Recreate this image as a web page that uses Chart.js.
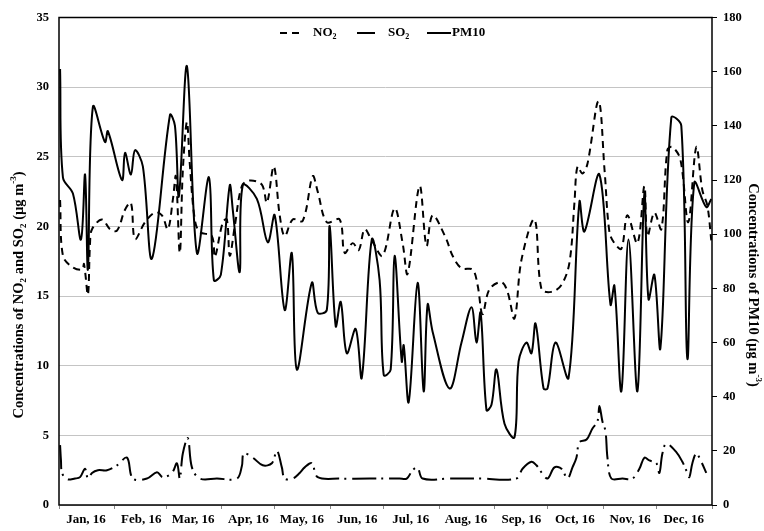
<!DOCTYPE html>
<html>
<head>
<meta charset="utf-8">
<script src="https://cdn.jsdelivr.net/npm/chart.js@4.4.1/dist/chart.umd.min.js"></script>
<style>
  html, body { margin: 0; padding: 0; background: #fff; }
  #chart { display: block; }
</style>
</head>
<body>
<canvas id="chart" width="764" height="531"></canvas>
<script>
// month boundaries (day of year, 2016) and their labels
const monthStarts = [0, 31, 60, 91, 121, 152, 182, 213, 244, 274, 305, 335, 366];
const monthLabels = ["Jan, 16", "Feb, 16", "Mar, 16", "Apr, 16", "May, 16", "Jun, 16",
  "Jul, 16", "Aug, 16", "Sep, 16", "Oct, 16", "Nov, 16", "Dec, 16", ""];

const leftTicks = [0, 5, 10, 15, 20, 25, 30, 35];
const rightTicks = [0, 20, 40, 60, 80, 100, 120, 140, 160, 180];

// NO2 (left axis)
const no2Days = [0.6, 2.2, 7.3, 12.9, 14.0, 16.2, 17.4, 18.5, 24.1, 28.6, 32.5, 37.0, 40.3, 42.6, 48.2,
  53.8, 57.7, 61.0, 63.8, 65.5, 67.7, 69.4, 71.7, 73.3, 76.1, 78.9, 85.7, 87.3, 91.8, 94.1,
  95.7, 98.5, 102.5, 106.9, 113.7, 116.5, 120.4, 123.7, 126.5, 131.0, 136.6, 142.2, 145.0, 150.1, 157.3,
  160.1, 164.6, 168.0, 171.3, 175.3, 181.4, 188.1, 192.6, 195.4, 202.1, 206.0, 209.4, 216.7, 220.6, 225.6,
  231.8, 234.6, 237.4, 241.3, 248.0, 251.4, 255.3, 259.2, 266.5, 270.4, 276.0, 281.6, 286.1, 288.9, 290.6,
  293.4, 296.2, 302.4, 305.8, 308.5, 311.3, 315.2, 318.6, 324.2, 328.1, 329.8, 333.7, 337.6, 341.0, 343.8,
  348.3, 352.7, 357.2, 360.6, 363.4, 365.6];
const no2Values = [21.9, 17.9, 17.1, 16.9, 17.3, 15.1, 18.8, 19.8, 20.5, 19.8, 19.7, 21.2, 21.7, 19.1, 20.3,
  21.0, 20.8, 19.8, 21.9, 23.6, 18.1, 24.0, 27.5, 24.5, 20.5, 19.6, 19.3, 17.8, 20.3, 20.5,
  17.9, 20.0, 22.9, 23.3, 23.0, 21.7, 24.3, 20.8, 19.3, 20.5, 20.4, 23.6, 22.5, 20.3, 20.5,
  18.1, 18.8, 18.3, 19.8, 19.0, 17.9, 21.3, 18.8, 16.6, 22.9, 18.6, 20.8, 19.2, 17.9, 17.0,
  16.9, 15.8, 13.7, 15.5, 16.0, 15.3, 13.4, 17.6, 20.5, 15.5, 15.3, 15.8, 17.4, 21.7, 24.3,
  23.8, 24.5, 29.0, 24.0, 19.6, 18.8, 18.4, 20.8, 18.8, 22.9, 19.3, 21.0, 19.8, 25.5, 25.7,
  24.8, 20.3, 25.7, 22.6, 21.5, 19.0];

// SO2 (left axis)
const so2Days = [0.6, 1.1, 1.7, 4.5, 9.0, 11.8, 14.6, 16.2, 18.5, 21.8, 26.9, 32.5, 38.1, 41.4, 49.3,
  54.9, 58.2, 63.3, 66.1, 67.7, 69.4, 72.2, 74.5, 78.9, 88.5, 99.7, 102.5, 103.6, 108.6, 114.2,
  119.3, 122.1, 124.9, 126.5, 131.0, 134.9, 137.7, 141.7, 145.0, 157.3, 174.2, 190.9, 194.9, 198.2, 201.0,
  203.8, 218.9, 235.7, 256.4, 259.8, 264.8, 267.6, 270.4, 273.8, 277.7, 281.6, 285.0, 287.8, 290.0, 291.7,
  295.7, 299.0, 301.8, 302.9, 304.6, 306.3, 307.4, 309.6, 315.8, 321.4, 325.3, 328.1, 330.9, 334.8, 336.5,
  338.2, 340.4, 346.0, 349.4, 352.2, 353.3, 355.0, 357.2, 360.0, 362.8];
const so2Values = [4.3, 3.2, 2.3, 1.85, 1.9, 2.0, 2.6, 1.9, 2.3, 2.5, 2.5, 2.85, 3.4, 1.9, 1.9,
  2.35, 2.0, 2.3, 3.0, 1.9, 3.7, 4.8, 2.7, 1.9, 1.9, 1.9, 2.8, 3.7, 3.4, 2.85,
  3.0, 3.9, 2.7, 1.9, 1.9, 2.3, 2.7, 3.0, 2.0, 1.9, 1.9, 1.9, 1.9, 2.5, 2.7,
  1.9, 1.9, 1.9, 1.9, 2.6, 3.1, 2.85, 2.35, 1.9, 2.7, 2.6, 1.9, 2.7, 3.4, 4.5,
  4.7, 5.5, 6.0, 7.1, 6.0, 5.3, 3.4, 1.9, 1.9, 1.9, 2.6, 3.4, 3.2, 3.0, 2.3,
  3.7, 4.4, 3.8, 3.1, 2.3, 2.0, 3.0, 3.7, 3.1, 2.3];

// PM10 (right axis)
const pm10Days = [0.6, 2.2, 7.8, 12.3, 14.6, 16.2, 19.0, 25.8, 27.4, 35.3, 37.0, 40.3, 42.6, 47.0, 52.1,
  62.2, 65.0, 67.2, 71.7, 77.3, 84.0, 86.8, 90.7, 95.7, 97.4, 101.3, 103.0, 110.9, 117.0, 120.9,
  126.5, 130.5, 133.3, 141.7, 145.0, 150.1, 151.7, 155.1, 157.9, 161.3, 166.3, 169.7, 175.3, 179.7, 182.0,
  185.9, 188.1, 192.1, 193.2, 196.0, 201.0, 204.4, 206.6, 209.4, 218.9, 225.6, 231.2, 234.0, 236.3, 239.6,
  242.4, 245.2, 249.7, 255.3, 257.6, 262.0, 264.8, 267.1, 271.6, 273.8, 278.3, 285.6, 291.7, 294.5, 302.9,
  309.1, 311.3, 315.2, 319.2, 324.2, 328.1, 330.4, 333.7, 337.1, 343.2, 348.8, 352.2, 356.1, 362.8, 365.6];
const pm10Values = [161, 121, 115, 98, 122, 87, 147, 134, 138, 120, 130, 122, 131, 125, 91,
  144, 140, 114, 162, 93, 121, 83, 85, 118, 109, 86, 118, 113, 97, 107,
  72, 93, 50, 82, 71, 72, 103, 66, 75, 56, 65, 47, 98, 83, 48,
  50, 92, 53, 59, 38, 82, 42, 74, 64, 43, 60, 73, 60, 71, 35,
  37, 50, 30, 25, 53, 60, 56, 67, 43, 43, 60, 47, 112, 101, 122,
  74, 81, 42, 98, 42, 115, 76, 85, 58, 143, 140, 54, 119, 110, 113];

const FONT = "'Liberation Serif', 'Times New Roman', serif";
const pts = (xs, ys) => xs.map((d, i) => ({ x: d, y: ys[i] }));

// text with sub/superscripts, drawn left to right from x
function richWidth(ctx, parts, size) {
  let w = 0;
  parts.forEach(([t, k]) => {
    ctx.font = "bold " + (k === "n" ? size : Math.round(size * 0.65)) + "px " + FONT;
    w += ctx.measureText(t).width;
  });
  return w;
}
function drawRich(ctx, parts, x, y, size) {
  ctx.textBaseline = "middle";
  ctx.textAlign = "left";
  parts.forEach(([t, k]) => {
    const s = k === "n" ? size : Math.round(size * 0.65);
    ctx.font = "bold " + s + "px " + FONT;
    const dy = k === "sub" ? size * 0.3 : k === "sup" ? -size * 0.35 : 0;
    ctx.fillText(t, x, y + dy);
    x += ctx.measureText(t).width;
  });
}

const decor = {
  id: "decor",
  afterDraw(chart) {
    const ctx = chart.ctx;
    const a = chart.chartArea;
    ctx.save();
    ctx.strokeStyle = "#000";
    ctx.lineWidth = 1.5;
    ctx.strokeRect(a.left, a.top, a.right - a.left, a.bottom - a.top);

    // legend
    ctx.fillStyle = "#000";
    ctx.lineWidth = 2;
    const ly = 33;
    ctx.setLineDash([7, 5]);
    ctx.beginPath(); ctx.moveTo(280, ly); ctx.lineTo(304, ly); ctx.stroke();
    ctx.setLineDash([]);
    ctx.beginPath(); ctx.moveTo(357, ly); ctx.lineTo(375, ly); ctx.stroke();
    ctx.beginPath(); ctx.moveTo(427, ly); ctx.lineTo(451, ly); ctx.stroke();
    drawRich(ctx, [["NO", "n"], ["2", "sub"]], 313, ly, 13);
    drawRich(ctx, [["SO", "n"], ["2", "sub"]], 388, ly, 13);
    drawRich(ctx, [["PM10", "n"]], 452, ly, 13);

    // axis titles
    const leftT = [["Concentrations of NO", "n"], ["2", "sub"], [" and SO", "n"], ["2", "sub"],
      [" (\u00b5g m", "n"], ["-3", "sup"], [")", "n"]];
    const rightT = [["Concentrations of PM10 (\u00b5g m", "n"], ["-3", "sup"], [")", "n"]];
    ctx.save();
    ctx.translate(19, 295);
    ctx.rotate(-Math.PI / 2);
    drawRich(ctx, leftT, -richWidth(ctx, leftT, 14.5) / 2, 0, 14.5);
    ctx.restore();
    ctx.save();
    ctx.translate(753, 285);
    ctx.rotate(Math.PI / 2);
    drawRich(ctx, rightT, -richWidth(ctx, rightT, 14.5) / 2, 0, 14.5);
    ctx.restore();
    ctx.restore();
  }
};

new Chart(document.getElementById("chart"), {
  type: "line",
  data: {
    datasets: [
      {
        label: "NO2", data: pts(no2Days, no2Values), yAxisID: "y",
        borderColor: "#000", borderWidth: 2, borderDash: [7, 5],
        pointRadius: 0, tension: 0.35, fill: false
      },
      {
        label: "SO2", data: pts(so2Days, so2Values), yAxisID: "y",
        borderColor: "#000", borderWidth: 2, borderDash: [24, 5, 2, 6],
        pointRadius: 0, tension: 0.35, fill: false
      },
      {
        label: "PM10", data: pts(pm10Days, pm10Values), yAxisID: "y1",
        borderColor: "#000", borderWidth: 2,
        pointRadius: 0, tension: 0.35, fill: false
      }
    ]
  },
  options: {
    responsive: false,
    animation: false,
    events: [],
    layout: { padding: { top: 13, left: 0, right: 0, bottom: 0 } },
    plugins: { legend: { display: false }, tooltip: { enabled: false } },
    scales: {
      x: {
        type: "linear", min: 0, max: 366,
        afterBuildTicks: (s) => { s.ticks = monthStarts.map((v) => ({ value: v })); },
        afterFit: (s) => { s.height = 26; },
        grid: { drawOnChartArea: false, drawTicks: true, tickLength: 4, color: "#888" },
        border: { display: false },
        ticks: {
          autoSkip: false, maxRotation: 0, minRotation: 0, labelOffset: 27, padding: 3,
          color: "#000", font: { family: FONT, size: 13, weight: "bold" },
          callback: (v, i) => monthLabels[i]
        }
      },
      y: {
        position: "left", min: 0, max: 35,
        afterBuildTicks: (s) => { s.ticks = leftTicks.map((v) => ({ value: v })); },
        afterFit: (s) => { s.width = 59; },
        grid: { color: "#c4c4c4", lineWidth: 1, drawTicks: false },
        border: { display: false },
        ticks: { padding: 10, color: "#000", font: { family: FONT, size: 12.5, weight: "bold" } }
      },
      y1: {
        position: "right", min: 0, max: 180,
        afterBuildTicks: (s) => { s.ticks = rightTicks.map((v) => ({ value: v })); },
        afterFit: (s) => { s.width = 52; },
        grid: { drawOnChartArea: false, drawTicks: true, tickLength: 5, color: "#000" },
        border: { display: false },
        ticks: { padding: 6, color: "#000", font: { family: FONT, size: 12.5, weight: "bold" } }
      }
    }
  },
  plugins: [decor]
});
</script>
</body>
</html>
